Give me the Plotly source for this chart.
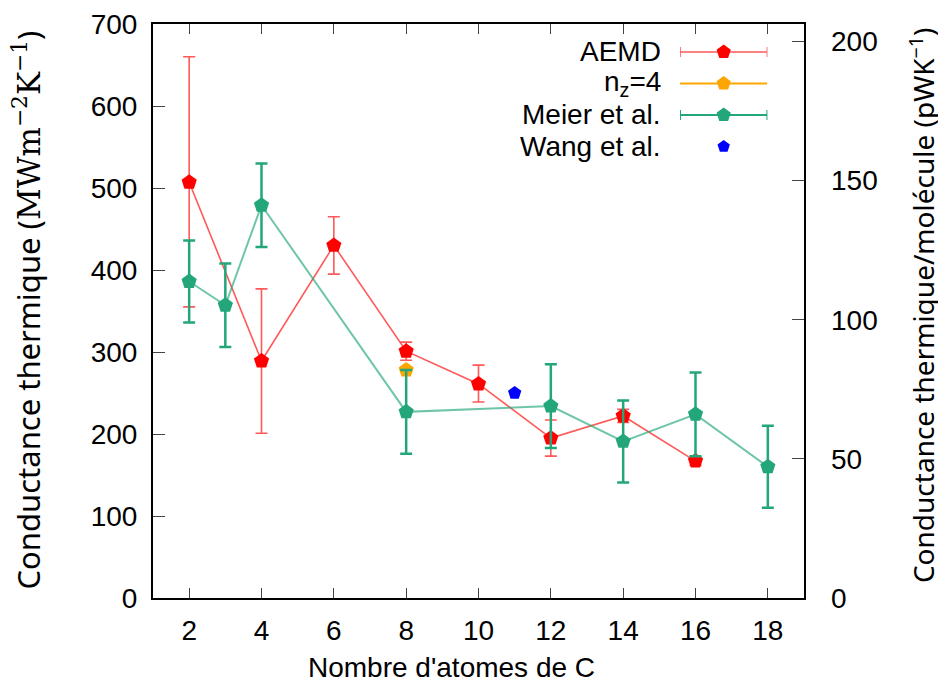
import plotly.graph_objects as go

# ---------------- data ----------------
aemd_x = [2, 4, 6, 8, 10, 12, 14, 16]
aemd_y = [507, 289, 430, 301, 261, 195, 222, 167]
aemd_err_plus = [153, 88, 35, 11, 23, 22, 8, 5]
aemd_err_minus = [152, 88, 35, 11, 22, 22, 8, 5]

nz4_x = [8]
nz4_y = [278]

meier_x = [2, 3, 4, 8, 12, 14, 16, 18]
meier_y = [386, 357, 479, 227, 234, 191, 224, 160]
meier_err = [50, 51, 51, 51, 51, 50, 51, 50]

wang_x = [11]
wang_y = [250]

legend_labels = ["AEMD", "n<sub>z</sub>=4", "Meier et al.", "Wang et al."]
x_ticks = [2, 4, 6, 8, 10, 12, 14, 16, 18]
y_ticks = [0, 100, 200, 300, 400, 500, 600, 700]
y2_ticks = [0, 50, 100, 150, 200]

RED = "#ff0000"
RED_LINE = "rgba(255,60,60,0.85)"
ORANGE = "#ffa500"
GREEN = "#22a67a"
GREEN_LINE = "rgba(34,166,122,0.65)"
BLUE = "#0000ff"

TICKFONT = dict(family="Liberation Sans, Arial, sans-serif", size=28, color="black")

fig = go.Figure()

fig.add_trace(go.Scatter(
    x=aemd_x, y=aemd_y, mode="lines+markers",
    line=dict(color=RED_LINE, width=1.6),
    marker=dict(symbol="pentagon", size=16, color=RED, line=dict(width=0)),
    error_y=dict(type="data", array=aemd_err_plus, arrayminus=aemd_err_minus,
                 color=RED_LINE, thickness=1.6, width=6),
    showlegend=False))

fig.add_trace(go.Scatter(
    x=nz4_x, y=nz4_y, mode="markers",
    marker=dict(symbol="pentagon", size=16, color=ORANGE, line=dict(width=0)),
    showlegend=False))

fig.add_trace(go.Scatter(
    x=meier_x, y=meier_y, mode="lines+markers",
    line=dict(color=GREEN_LINE, width=2),
    marker=dict(symbol="pentagon", size=16, color=GREEN, line=dict(width=0)),
    error_y=dict(type="data", array=meier_err, color=GREEN, thickness=2.5, width=6),
    showlegend=False))

fig.add_trace(go.Scatter(
    x=wang_x, y=wang_y, mode="markers",
    marker=dict(symbol="pentagon", size=14, color=BLUE, line=dict(width=0)),
    showlegend=False))

# invisible anchor trace so that the right-hand axis is drawn
fig.add_trace(go.Scatter(x=[x_ticks[0]], y=[y2_ticks[0]], yaxis="y2", mode="markers",
    marker=dict(opacity=0), showlegend=False, hoverinfo="skip"))

# ---------------- custom legend (text left of samples) ----------------
leg_rows = [0, 1, 2, 3]
fig.add_trace(go.Scatter(x=[0.5], y=[leg_rows[0]], xaxis="x3", yaxis="y3", mode="markers",
    marker=dict(symbol="pentagon", size=15, color=RED),
    error_x=dict(type="data", array=[0.5], color=RED_LINE, thickness=1.6, width=5),
    showlegend=False, hoverinfo="skip"))
fig.add_trace(go.Scatter(x=[0, 0.5, 1], y=[leg_rows[1]] * 3, xaxis="x3", yaxis="y3", mode="lines",
    line=dict(color=ORANGE, width=2), showlegend=False, hoverinfo="skip"))
fig.add_trace(go.Scatter(x=[0.5], y=[leg_rows[1]], xaxis="x3", yaxis="y3", mode="markers",
    marker=dict(symbol="pentagon", size=15, color=ORANGE), showlegend=False, hoverinfo="skip"))
fig.add_trace(go.Scatter(x=[0.5], y=[leg_rows[2]], xaxis="x3", yaxis="y3", mode="markers",
    marker=dict(symbol="pentagon", size=15, color=GREEN),
    error_x=dict(type="data", array=[0.5], color=GREEN, thickness=2, width=5),
    showlegend=False, hoverinfo="skip"))
fig.add_trace(go.Scatter(x=[0.5], y=[leg_rows[3]], xaxis="x3", yaxis="y3", mode="markers",
    marker=dict(symbol="pentagon", size=13, color=BLUE), showlegend=False, hoverinfo="skip"))

annotations = []
for lab, r in zip(legend_labels, leg_rows):
    annotations.append(dict(text=lab, xref="paper", yref="y3", x=0.783, y=r,
                            xanchor="right", yanchor="middle", showarrow=False,
                            font=dict(family="Liberation Sans, Arial, sans-serif", size=28, color="black")))

annotations.append(dict(
    text="Conductance thermique (<span style='font-family:DejaVu Serif'>MWm<sup>−2</sup>K<sup>−1</sup></span>)",
    xref="paper", yref="paper", x=-0.1925, y=0.502, textangle=-90,
    xanchor="center", yanchor="middle", showarrow=False,
    font=dict(family="Noto Sans, Open Sans, sans-serif", size=31, color="black")))
annotations.append(dict(
    text="Conductance thermique/molécule (pWK<sup>−1</sup>)",
    xref="paper", yref="paper", x=1.181, y=0.51, textangle=-90,
    xanchor="center", yanchor="middle", showarrow=False,
    font=dict(family="Noto Sans, Open Sans, sans-serif", size=28, color="black")))
annotations.append(dict(
    text="Nombre d'atomes de C",
    xref="paper", yref="paper", x=0.459, y=-0.121,
    xanchor="center", yanchor="middle", showarrow=False,
    font=dict(family="Liberation Sans, Arial, sans-serif", size=28, color="black")))

fig.update_layout(
    width=938, height=683,
    margin=dict(l=145, r=142, t=16, b=93, autoexpand=False),
    paper_bgcolor="white", plot_bgcolor="white",
    showlegend=False,
    xaxis=dict(range=[1, 19], tickvals=x_ticks, ticks="inside", ticklen=10, tickwidth=1.2,
               tickcolor="#444", showline=True, linecolor="black", linewidth=2, mirror="ticks",
               showgrid=False, zeroline=False, tickfont=TICKFONT, ticklabelstandoff=6,
               automargin=False),
    yaxis=dict(range=[0, 700], tickvals=y_ticks, ticks="inside", ticklen=12, tickwidth=1.2,
               tickcolor="#444", showline=True, linecolor="black", linewidth=2, mirror=True,
               showgrid=False, zeroline=False, tickfont=TICKFONT, ticklabelstandoff=8,
               automargin=False),
    yaxis2=dict(range=[0, 206.3], tickvals=y2_ticks, overlaying="y", side="right",
                ticks="inside", ticklen=12, tickwidth=1.2, tickcolor="#444",
                showline=False, showgrid=False, zeroline=False, tickfont=TICKFONT,
                ticklabelstandoff=26, automargin=False),
    xaxis3=dict(domain=[0.8095, 0.9438], range=[0, 1], visible=False, anchor="y3"),
    yaxis3=dict(domain=[0.7592, 0.9787], range=[3.5, -0.5], visible=False, anchor="x3"),
    annotations=annotations,
)

fig.write_html("out.html")
